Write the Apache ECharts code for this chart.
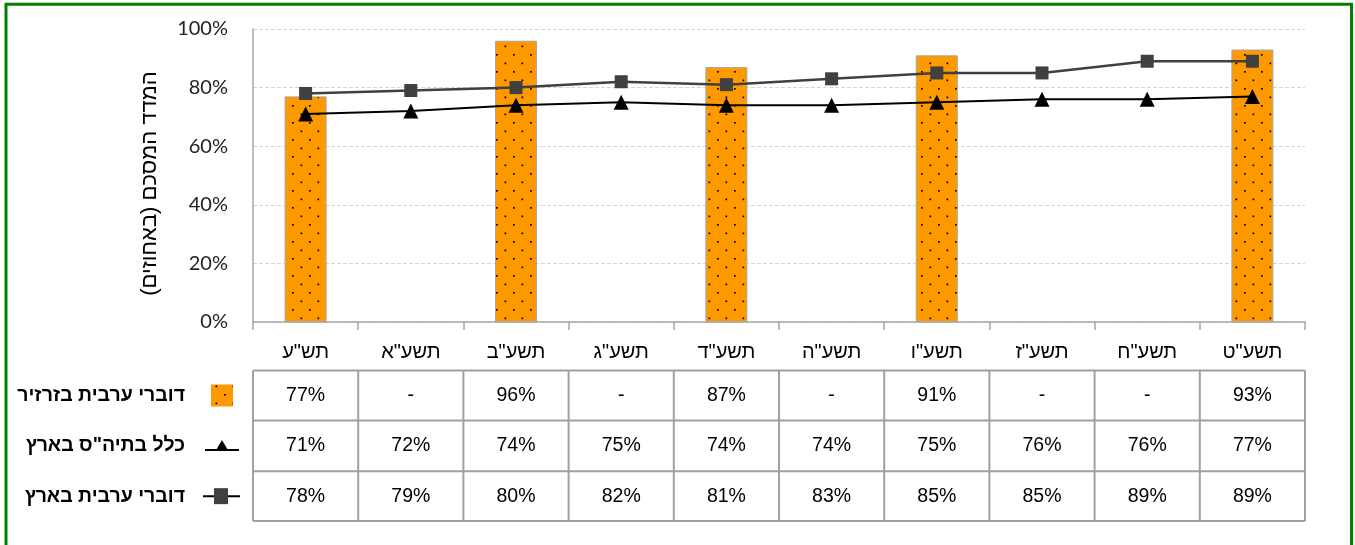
<!DOCTYPE html>
<html><head><meta charset="utf-8">
<script src="https://cdn.jsdelivr.net/npm/echarts@6/dist/echarts.min.js"></script>
<style>html,body{margin:0;padding:0;background:#fff}#c{width:1355px;height:545px}</style>
</head><body><div id="c"></div>
<script>
// ---- data ----
const categories = ['תש"ע','תשע"א','תשע"ב','תשע"ג','תשע"ד','תשע"ה','תשע"ו','תשע"ז','תשע"ח','תשע"ט'];
const seriesNames = ['דוברי ערבית בזרזיר','כלל בתיה"ס בארץ','דוברי ערבית בארץ'];
const zarzirValues = [77,null,96,null,87,null,91,null,null,93];
const allSchoolsValues = [71,72,74,75,74,74,75,76,76,77];
const arabicNationalValues = [78,79,80,82,81,83,85,85,89,89];
const yAxisTitle = 'המדד המסכם (באחוזים)';
const yMin = 0, yMax = 100, yStep = 20;

// ---- styles ----
const HEB = '"Liberation Sans", Arial, sans-serif';
function makePattern(){
  const c = document.createElement('canvas'); c.width = 17; c.height = 17;
  const g = c.getContext('2d');
  g.fillStyle = '#FF9900'; g.fillRect(0,0,17,17);
  g.fillStyle = '#000';
  g.fillRect(3,3,1.7,1.7); g.fillRect(11.5,11.5,1.7,1.7);
  return c;
}
const pattern = {image: makePattern(), repeat: 'repeat'};

const chart = echarts.init(document.getElementById('c'), null, {renderer:'canvas'});
chart.setOption({
  animation: false,
  backgroundColor: '#fff',
  grid: {left: 253, right: 50, top: 29, bottom: 223, containLabel: false},
  xAxis: {
    type: 'category', data: categories,
    axisLine: {lineStyle: {color: '#A6A6A6', width: 1.5}},
    axisTick: {show: true, length: 8, lineStyle: {color: '#A6A6A6', width: 1.5}},
    axisLabel: {fontSize: 20, color: '#000', margin: 20, fontFamily: HEB}
  },
  yAxis: {
    type: 'value', min: yMin, max: yMax, interval: yStep,
    name: yAxisTitle, nameLocation: 'middle', nameGap: 92,
    nameTextStyle: {fontSize: 22, color: '#000', fontFamily: HEB, padding: [0, 16, 0, 0]},
    axisLine: {show: true, lineStyle: {color: '#A6A6A6', width: 1.5}},
    axisTick: {show: false},
    axisLabel: {formatter: '{value}%', fontSize: 20, color: '#222', margin: 25, fontFamily: 'Lato, "Liberation Sans", sans-serif'},
    splitLine: {lineStyle: {color: '#D6D6D6', type: [4,2], width: 1.2}}
  },
  series: [
    {type: 'bar', name: seriesNames[0], data: zarzirValues, barWidth: 42,
     itemStyle: {color: pattern, borderColor: '#A6A6A6', borderWidth: 1}, z: 1},
    {type: 'line', name: seriesNames[1], data: allSchoolsValues, symbol: 'triangle', symbolSize: [15,15],
     lineStyle: {color: '#000', width: 2}, itemStyle: {color: '#000'}, z: 3},
    {type: 'line', name: seriesNames[2], data: arabicNationalValues, symbol: 'rect', symbolSize: 13,
     lineStyle: {color: '#404040', width: 2.5}, itemStyle: {color: '#404040'}, z: 4}
  ]
});

// ---- data table under the chart ----
const c0 = chart.convertToPixel({xAxisIndex: 0}, 0);
const c1 = chart.convertToPixel({xAxisIndex: 0}, 1);
const band = c1 - c0;
const tLeft = c0 - band/2;
const tRight = tLeft + band*categories.length;
const rowTops = [370.5, 420.5, 471.3, 521];
const lineCol = '#A0A0A0';
const els = [];
rowTops.forEach(y => els.push({type:'line', shape:{x1:tLeft, y1:y, x2:tRight, y2:y}, style:{stroke:lineCol, lineWidth:2}}));
for (let i = 0; i <= categories.length; i++) {
  const x = tLeft + band*i;
  els.push({type:'line', shape:{x1:x, y1:rowTops[0], x2:x, y2:rowTops[3]}, style:{stroke:lineCol, lineWidth:2}});
}
const rows = [zarzirValues, allSchoolsValues, arabicNationalValues];
rows.forEach((vals, r) => {
  const cy = (rowTops[r] + rowTops[r+1]) / 2;
  vals.forEach((v, i) => {
    els.push({type:'text', x: chart.convertToPixel({xAxisIndex:0}, i), y: cy,
      style:{text: v == null ? '-' : v + '%', fill:'#000', font: '19.5px "Liberation Sans", Arial, sans-serif', align:'center', verticalAlign:'middle'}});
  });
  els.push({type:'text', x: 185, y: cy, style:{text: seriesNames[r], fill:'#000', font:'bold 19.5px "Liberation Sans", Arial, sans-serif', align:'right', verticalAlign:'middle'}});
});
const cy0 = (rowTops[0]+rowTops[1])/2, cy1 = (rowTops[1]+rowTops[2])/2, cy2 = (rowTops[2]+rowTops[3])/2;
els.push({type:'rect', shape:{x:211, y:cy0-11, width:22, height:22}, style:{fill: pattern}});
els.push({type:'line', shape:{x1:205, y1:cy1+4, x2:239, y2:cy1+4}, style:{stroke:'#000', lineWidth:2}});
els.push({type:'polygon', shape:{points:[[215.5,cy1+5],[228.5,cy1+5],[222,cy1-6]]}, style:{fill:'#000'}});
els.push({type:'line', shape:{x1:203, y1:cy2, x2:240, y2:cy2}, style:{stroke:'#000', lineWidth:2}});
els.push({type:'rect', shape:{x:214, y:cy2-8, width:14, height:16}, style:{fill:'#404040'}});
els.push({type:'rect', shape:{x:6, y:4.3, width:1345.5, height:600}, style:{fill:'none', stroke:'#008000', lineWidth:3}, z: 100});
chart.setOption({graphic: {elements: els}});
</script>
</body></html>
